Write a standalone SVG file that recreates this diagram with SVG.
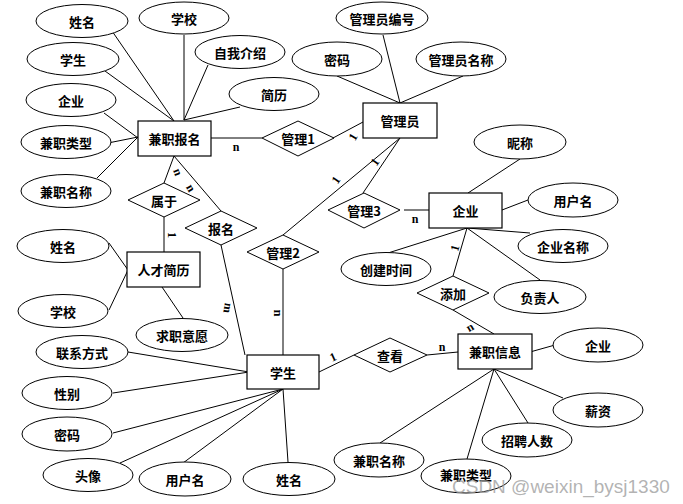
<svg xmlns="http://www.w3.org/2000/svg" width="683" height="504" viewBox="0 0 683 504">
<style>
.e{fill:#fff;stroke:#000;stroke-width:1}
.r{fill:#fff;stroke:#000;stroke-width:1.2}
.d{fill:#fff;stroke:#000;stroke-width:1}
.t{font-family:"Noto Sans CJK SC","Noto Sans",sans-serif;font-weight:bold;font-size:13px;text-anchor:middle;dominant-baseline:central;fill:#000}
.l{font-family:"Liberation Serif",serif;font-weight:bold;font-size:12px;text-anchor:middle;dominant-baseline:central;fill:#000}
.c line{stroke:#000;stroke-width:1}
</style>
<rect width="683" height="504" fill="#fff"/>
<g class="c" id="connectors">
<line x1="112" y1="31" x2="174" y2="121"/>
<line x1="184" y1="35" x2="184" y2="120"/>
<line x1="105" y1="71" x2="174" y2="121"/>
<line x1="208" y1="65" x2="184" y2="120"/>
<line x1="240" y1="107" x2="184" y2="120"/>
<line x1="104" y1="113" x2="138" y2="138"/>
<line x1="108" y1="143" x2="138" y2="137"/>
<line x1="97" y1="178" x2="138" y2="137"/>
<line x1="211" y1="138" x2="262" y2="138"/>
<line x1="174" y1="156" x2="164" y2="183"/>
<line x1="174" y1="156" x2="221" y2="211"/>
<line x1="164" y1="217" x2="164" y2="252"/>
<line x1="109" y1="243" x2="128" y2="270"/>
<line x1="109" y1="310" x2="128" y2="270"/>
<line x1="162" y1="287" x2="183" y2="318"/>
<line x1="221" y1="245" x2="245" y2="355"/>
<line x1="283" y1="269" x2="283" y2="355"/>
<line x1="283" y1="235" x2="400" y2="138"/>
<line x1="383" y1="35" x2="400" y2="103"/>
<line x1="337" y1="76" x2="400" y2="103"/>
<line x1="463" y1="76" x2="400" y2="103"/>
<line x1="333" y1="138" x2="363" y2="122"/>
<line x1="400" y1="138" x2="363" y2="193"/>
<line x1="404" y1="210" x2="429" y2="210"/>
<line x1="520" y1="159" x2="468" y2="193"/>
<line x1="502" y1="210" x2="528" y2="200"/>
<line x1="467" y1="228" x2="530" y2="233"/>
<line x1="467" y1="228" x2="388" y2="253"/>
<line x1="467" y1="228" x2="453" y2="276"/>
<line x1="467" y1="228" x2="540" y2="280"/>
<line x1="453" y1="310" x2="494" y2="334"/>
<line x1="530" y1="352" x2="555" y2="345"/>
<line x1="319" y1="372" x2="354" y2="355"/>
<line x1="427" y1="355" x2="458" y2="352"/>
<line x1="494" y1="369" x2="380" y2="443"/>
<line x1="494" y1="369" x2="467" y2="459"/>
<line x1="494" y1="369" x2="528" y2="423"/>
<line x1="494" y1="369" x2="563" y2="398"/>
<line x1="128" y1="352" x2="249" y2="372"/>
<line x1="113" y1="393" x2="249" y2="372"/>
<line x1="113" y1="433" x2="283" y2="389"/>
<line x1="120" y1="463" x2="283" y2="389"/>
<line x1="183" y1="463" x2="283" y2="389"/>
<line x1="288" y1="462" x2="283" y2="389"/>
</g>
<g id="labels">
<text class="l" x="236" y="147">n</text>
<text class="l" transform="translate(178,172) rotate(70)">n</text>
<text class="l" transform="translate(191,188) rotate(60)">n</text>
<text class="l" transform="translate(172,235) rotate(90)">1</text>
<text class="l" transform="translate(228,308) rotate(100)">m</text>
<text class="l" transform="translate(278,313) rotate(90)">n</text>
<text class="l" transform="translate(353,137) rotate(-60)">1</text>
<text class="l" transform="translate(375,162) rotate(-55)">1</text>
<text class="l" transform="translate(336,180) rotate(-55)">1</text>
<text class="l" x="415" y="219">n</text>
<text class="l" transform="translate(455,248) rotate(-75)">1</text>
<text class="l" transform="translate(470,327) rotate(-30)">n</text>
<text class="l" transform="translate(333,357) rotate(-25)">1</text>
<text class="l" x="442" y="347">n</text>
</g>
<g id="jianzhibaoming"><rect class="r" x="138" y="121" width="73" height="35"/><text class="t" x="174.5" y="138.5">兼职报名</text></g>
<g id="guanliyuan"><rect class="r" x="363" y="103" width="74" height="35"/><text class="t" x="400" y="120.5">管理员</text></g>
<g id="qiye"><rect class="r" x="429" y="193" width="73" height="35"/><text class="t" x="465.5" y="210.5">企业</text></g>
<g id="rencaijianli"><rect class="r" x="127" y="252" width="73" height="35"/><text class="t" x="163.5" y="269.5">人才简历</text></g>
<g id="xuesheng"><rect class="r" x="247" y="355" width="72" height="34"/><text class="t" x="283" y="372">学生</text></g>
<g id="jianzhixinxi"><rect class="r" x="458" y="334" width="74" height="35"/><text class="t" x="495" y="351.5">兼职信息</text></g>
<g id="guanli1"><polygon class="d" points="262,138 298,121 334,138 298,156"/><text class="t" x="298" y="138.5">管理1</text></g>
<g id="shuyu"><polygon class="d" points="128,200 164,183 200,200 164,217"/><text class="t" x="164" y="200">属于</text></g>
<g id="baoming"><polygon class="d" points="185,228 221,211 257,228 221,245"/><text class="t" x="221" y="228">报名</text></g>
<g id="guanli2"><polygon class="d" points="247,252 283,235 319,252 283,269"/><text class="t" x="283" y="252">管理2</text></g>
<g id="guanli3"><polygon class="d" points="328,210 364,193 400,210 364,228"/><text class="t" x="364" y="210.5">管理3</text></g>
<g id="tianjia"><polygon class="d" points="417,293 453,276 489,293 453,310"/><text class="t" x="453" y="293">添加</text></g>
<g id="chakan"><polygon class="d" points="354,355 390,338 427,355 390,372"/><text class="t" x="390" y="355">查看</text></g>
<g id="a1"><ellipse class="e" cx="82" cy="21" rx="46" ry="16.5"/><text class="t" x="82" y="21">姓名</text></g>
<g id="a2"><ellipse class="e" cx="184" cy="18" rx="45" ry="16"/><text class="t" x="184" y="18">学校</text></g>
<g id="a3"><ellipse class="e" cx="73" cy="59" rx="46" ry="16.5"/><text class="t" x="73" y="59">学生</text></g>
<g id="a4"><ellipse class="e" cx="240" cy="52" rx="45" ry="16.5"/><text class="t" x="240" y="52">自我介绍</text></g>
<g id="a5"><ellipse class="e" cx="71" cy="100" rx="45" ry="16.5"/><text class="t" x="71" y="100">企业</text></g>
<g id="a6"><ellipse class="e" cx="274" cy="94" rx="45" ry="16.5"/><text class="t" x="274" y="94">简历</text></g>
<g id="a7"><ellipse class="e" cx="66" cy="142" rx="45" ry="16.5"/><text class="t" x="66" y="142">兼职类型</text></g>
<g id="a8"><ellipse class="e" cx="66" cy="191" rx="45" ry="16.5"/><text class="t" x="66" y="191">兼职名称</text></g>
<g id="a9"><ellipse class="e" cx="382" cy="18" rx="46" ry="16"/><text class="t" x="382" y="18">管理员编号</text></g>
<g id="a10"><ellipse class="e" cx="337" cy="59" rx="45" ry="17"/><text class="t" x="337" y="59">密码</text></g>
<g id="a11"><ellipse class="e" cx="461" cy="59" rx="45" ry="17"/><text class="t" x="461" y="59">管理员名称</text></g>
<g id="a12"><ellipse class="e" cx="520" cy="142" rx="46" ry="17"/><text class="t" x="520" y="142">昵称</text></g>
<g id="a13"><ellipse class="e" cx="573" cy="200" rx="45" ry="17"/><text class="t" x="573" y="200">用户名</text></g>
<g id="a14"><ellipse class="e" cx="563" cy="246" rx="45" ry="16.5"/><text class="t" x="563" y="246">企业名称</text></g>
<g id="a15"><ellipse class="e" cx="386" cy="269" rx="45" ry="16.5"/><text class="t" x="386" y="269">创建时间</text></g>
<g id="a16"><ellipse class="e" cx="540" cy="297" rx="46" ry="16.5"/><text class="t" x="540" y="297">负责人</text></g>
<g id="a17"><ellipse class="e" cx="598" cy="345" rx="45" ry="17"/><text class="t" x="598" y="345">企业</text></g>
<g id="a18"><ellipse class="e" cx="598" cy="410" rx="45" ry="17"/><text class="t" x="598" y="410">薪资</text></g>
<g id="a19"><ellipse class="e" cx="527" cy="440" rx="45" ry="17"/><text class="t" x="527" y="440">招聘人数</text></g>
<g id="a20"><ellipse class="e" cx="379" cy="460" rx="45" ry="17"/><text class="t" x="379" y="460">兼职名称</text></g>
<g id="a21"><ellipse class="e" cx="466" cy="476" rx="45" ry="17"/><text class="t" x="466" y="474">兼职类型</text></g>
<g id="a22"><ellipse class="e" cx="63" cy="246" rx="46" ry="16.5"/><text class="t" x="63" y="246">姓名</text></g>
<g id="a23"><ellipse class="e" cx="63" cy="311" rx="45" ry="16.5"/><text class="t" x="63" y="311">学校</text></g>
<g id="a24"><ellipse class="e" cx="182" cy="335" rx="46" ry="16.5"/><text class="t" x="182" y="335">求职意愿</text></g>
<g id="a25"><ellipse class="e" cx="82" cy="352" rx="46" ry="16.5"/><text class="t" x="82" y="352">联系方式</text></g>
<g id="a26"><ellipse class="e" cx="67" cy="393" rx="45" ry="16.5"/><text class="t" x="67" y="393">性别</text></g>
<g id="a27"><ellipse class="e" cx="67" cy="434" rx="45" ry="17"/><text class="t" x="67" y="434">密码</text></g>
<g id="a28"><ellipse class="e" cx="88" cy="475" rx="45" ry="16.5"/><text class="t" x="88" y="475">头像</text></g>
<g id="a29"><ellipse class="e" cx="185" cy="479" rx="46" ry="17"/><text class="t" x="185" y="479">用户名</text></g>
<g id="a30"><ellipse class="e" cx="289" cy="479" rx="46" ry="16.5"/><text class="t" x="289" y="479">姓名</text></g>
<text x="452" y="493" font-family="Liberation Sans,Arial,sans-serif" font-size="19" fill="#9a9a9a" fill-opacity="0.75">CSDN @weixin_bysj1330</text>
</svg>
